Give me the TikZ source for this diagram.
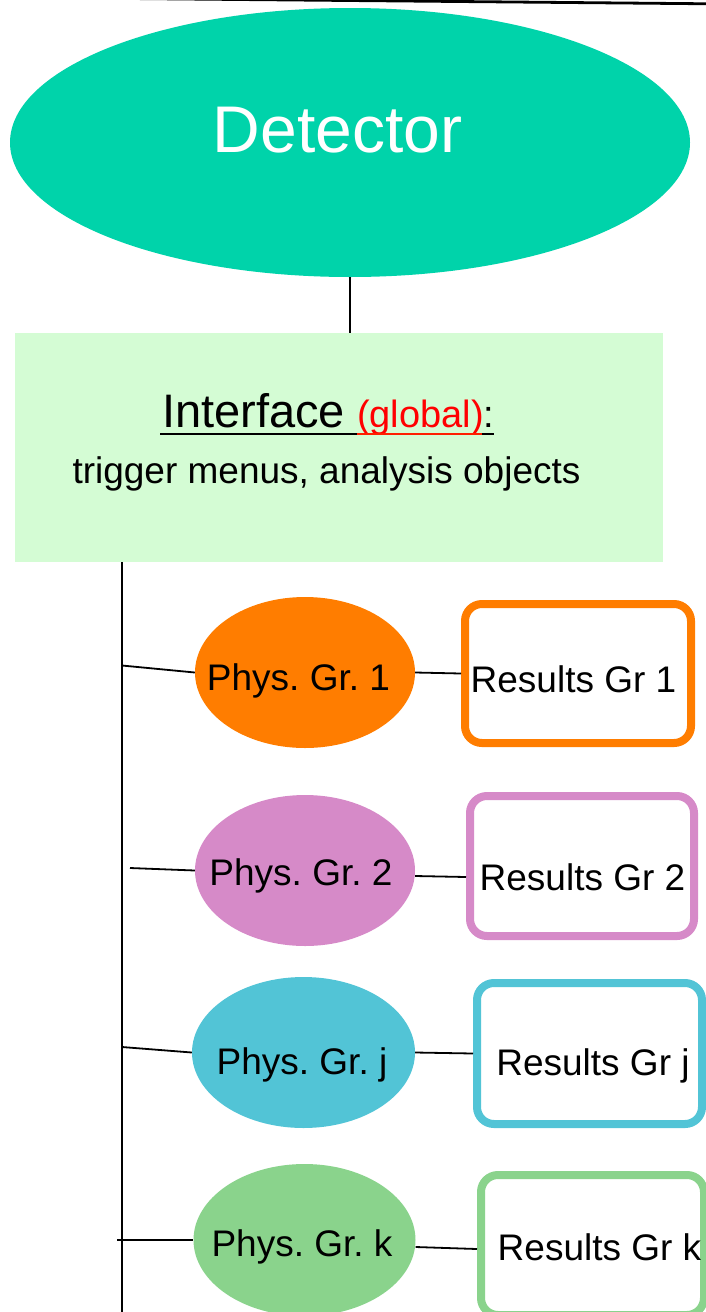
\documentclass[tikz,border=0pt]{standalone}
\usepackage{fontspec}
\setmainfont{Liberation Sans}
\usetikzlibrary{shapes.geometric,calc}
\frenchspacing
\definecolor{detc}{RGB}{0,211,170}
\definecolor{ifcc}{RGB}{212,252,212}
\definecolor{gorange}{RGB}{255,125,0}
\definecolor{gpink}{RGB}{214,138,200}
\definecolor{gcyan}{RGB}{82,196,214}
\definecolor{ggreen}{RGB}{138,211,140}
\definecolor{ured}{RGB}{255,30,0}
\begin{document}
\begin{tikzpicture}[x=1pt,y=-1pt,
  conn/.style={line width=1.8pt, black},
  grell/.style={ellipse, inner sep=0pt, minimum width=220pt, minimum height=151pt},
  resbox/.style={rectangle, rounded corners=17pt, line width=8pt, fill=white, inner sep=0pt},
  lbl/.style={font=\fontsize{37}{41}\selectfont, inner sep=0pt, anchor=base},
]
\useasboundingbox (0,0) rectangle (706,1312);
\clip (0,0) rectangle (706,1312);

% top edge line
\coordinate (tl) at (140,-1.4);
\coordinate (tr) at (710,3.8);
\draw[line width=2.8pt] (tl) -- (tr);

% Detector
\node[ellipse, fill=detc, inner sep=0pt, minimum width=680pt, minimum height=269pt] (det) at (350,142.5) {};
\node[font=\fontsize{66}{70}\selectfont, text=white, inner sep=0pt, anchor=base] (dett) at (337.5,152) {Detector};

% Interface box
\node[rectangle, fill=ifcc, inner sep=0pt, minimum width=648pt, minimum height=229pt] (ifc) at (339,447.5) {};
\node[font=\fontsize{47}{50}\selectfont, inner sep=0pt, anchor=base west] (ifct) at (162,427) {Interface};
\node[font=\fontsize{38}{42}\selectfont, text=red, inner sep=0pt, anchor=base west] (glb) at (357,427) {(global)};
\node[font=\fontsize{38}{42}\selectfont, inner sep=0pt, anchor=base west] (colon) at (483,427) {:};
\draw[line width=2.6pt] (160,434) -- (357,434);
\draw[line width=2.6pt, ured] (357,434) -- (482,434);
\draw[line width=2.6pt] (482,434) -- (494,434);
\node[font=\fontsize{37}{40}\selectfont, inner sep=0pt, anchor=base] (trig) at (326.5,483) {trigger menus, analysis objects};

\draw[conn] (det.south) -- (det.south |- ifc.north);

% main vertical line
\coordinate (vtop) at (122,562);
\coordinate (vbot) at (122,1312);
\draw[line width=2.2pt] (vtop) -- (vbot);

% group ellipses
\node[grell, fill=gorange] (e1) at (305,672.5) {};
\node[grell, fill=gpink] (e2) at (305,870.5) {};
\node[grell, fill=gcyan, minimum width=223pt] (ej) at (303.5,1052.5) {};
\node[grell, fill=ggreen, minimum width=222pt, minimum height=152pt] (ek) at (304.5,1240) {};

\node[lbl] (t1) at (298.5,690) {Phys. Gr. 1};
\node[lbl] (t2) at (301,885) {Phys. Gr. 2};
\node[lbl] (tj) at (302,1074) {Phys. Gr. j};
\node[lbl] (tk) at (302,1256) {Phys. Gr. k};

% result boxes
\node[resbox, draw=gorange, minimum width=226pt, minimum height=139pt] (r1) at (578,673.5) {};
\node[resbox, draw=gpink, minimum width=224pt, minimum height=140pt] (r2) at (582,866) {};
\node[resbox, draw=gcyan, minimum width=225pt, minimum height=141pt] (rj) at (589.5,1053.5) {};
\node[resbox, draw=ggreen, minimum width=223pt, minimum height=140pt] (rk) at (592.5,1245) {};

\node[lbl] (s1) at (573.5,692) {Results Gr 1};
\node[lbl] (s2) at (582.5,890) {Results Gr 2};
\node[lbl] (sj) at (593,1075) {Results Gr j};
\node[lbl] (sk) at (599.5,1260) {Results Gr k};

% branch connectors
\coordinate (b1) at (122,665.5);
\coordinate (b2) at (130,868);
\coordinate (bj) at (122,1047);
\coordinate (bk) at (117,1240);
\draw[conn] (b1) -- (e1.west);
\draw[conn] (b2) -- (e2.west);
\draw[conn] (bj) -- (ej.west);
\draw[conn] (bk) -- (ek.west);

% group to results connectors
\draw[conn] (e1.east) -- (r1.west);
\draw[conn] ($(e2.east)+(0,5.5)$) -- ($(r2.west)+(0,11)$);
\draw[conn] (ej.east) -- (rj.west);
\draw[conn] ($(ek.east)+(0,7)$) -- ($(rk.west)+(0,4)$);
\end{tikzpicture}
\end{document}
